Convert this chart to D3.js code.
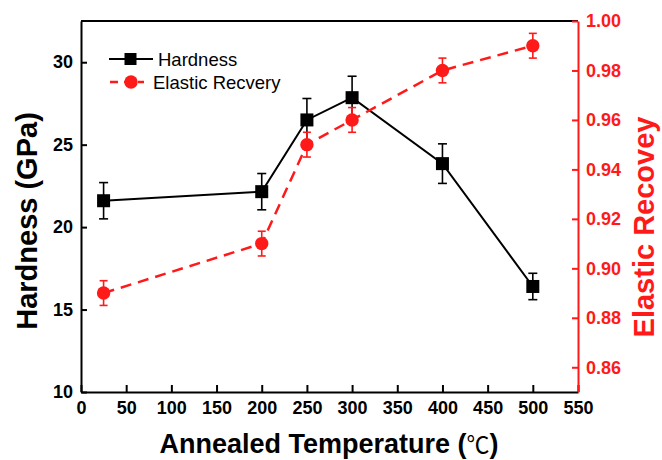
<!DOCTYPE html>
<html>
<head>
<meta charset="utf-8">
<script src="https://cdn.jsdelivr.net/npm/d3@7"></script>
<style>
  html, body { margin: 0; padding: 0; background: #fff; }
  svg { display: block; font-family: "Liberation Sans", Arial, sans-serif; }
</style>
</head>
<body>
<svg id="chart" width="662" height="460"></svg>
<script>
// Annealing temperatures (°C)
const temperatures = [25, 200, 250, 300, 400, 500];
// Hardness (GPa) with error
const hardness = [21.6, 22.15, 26.5, 27.85, 23.85, 16.4];
const hardnessErr = [1.1, 1.1, 1.3, 1.3, 1.2, 0.8];
// Elastic recovery with error
const recovery = [0.89, 0.91, 0.95, 0.96, 0.98, 0.99];
const recoveryErr = [0.005, 0.005, 0.005, 0.005, 0.005, 0.005];

const xTicks = [0, 50, 100, 150, 200, 250, 300, 350, 400, 450, 500, 550];
const leftTicks = [10, 15, 20, 25, 30];
const rightTicks = [0.86, 0.88, 0.90, 0.92, 0.94, 0.96, 0.98, 1.00];

const RED = "#ff1a1a";
const FONT = "Liberation Sans, Arial, sans-serif";
const svg = d3.select("#chart");
const L = 81, R = 578, T = 21, B = 392;

const x = d3.scaleLinear().domain([0, 550]).range([L, R]);
const yL = d3.scaleLinear().domain([10, 32.5]).range([B, T]);
const yR = d3.scaleLinear().domain([0.85, 1.00]).range([B, T]);

// frame top line
svg.append("line").attr("x1", L).attr("x2", R).attr("y1", T).attr("y2", T)
  .attr("stroke", "#000").attr("stroke-width", 2);

function styleAxis(g, color) {
  g.select(".domain").attr("stroke", color).attr("stroke-width", 2);
  g.selectAll(".tick line").attr("stroke", color).attr("stroke-width", 2);
  g.selectAll(".tick text").attr("font-size", 18).attr("font-weight", "bold")
    .attr("fill", color).attr("font-family", FONT);
}

// x axis
const gx = svg.append("g").attr("transform", `translate(0,${B})`)
  .call(d3.axisBottom(x).tickValues(xTicks).tickSize(-7).tickPadding(9).tickSizeOuter(0));
styleAxis(gx, "#000");

// left axis
const gl = svg.append("g").attr("transform", `translate(${L},0)`)
  .call(d3.axisLeft(yL).tickValues(leftTicks).tickSize(-6).tickPadding(8).tickSizeOuter(0));
styleAxis(gl, "#000");

// right axis
const gr = svg.append("g").attr("transform", `translate(${R},0)`)
  .call(d3.axisRight(yR).tickValues(rightTicks).tickFormat(d3.format(".2f"))
    .tickSize(-6).tickPadding(8).tickSizeOuter(0));
styleAxis(gr, RED);

// axis titles
svg.append("text").attr("transform", "translate(37,221) rotate(-90)")
  .attr("text-anchor", "middle").attr("font-size", 29).attr("font-weight", "bold")
  .attr("fill", "#000").text("Hardness (GPa)");
svg.append("text").attr("transform", "translate(654,227) rotate(-90)")
  .attr("text-anchor", "middle").attr("font-size", 29).attr("font-weight", "bold")
  .attr("fill", RED).text("Elastic Recovey");
const xt = svg.append("text").attr("x", 329).attr("y", 453)
  .attr("text-anchor", "middle").attr("font-size", 27).attr("font-weight", "bold")
  .attr("fill", "#000");
xt.append("tspan").text("Annealed Temperature (");
xt.append("tspan").attr("font-family", "Noto Sans CJK SC").attr("font-weight", 400)
  .attr("font-size", 23).text("\u2103");
xt.append("tspan").text(")");

const hData = temperatures.map((t, i) => ({ t, v: hardness[i], e: hardnessErr[i] }));
const rData = temperatures.map((t, i) => ({ t, v: recovery[i], e: recoveryErr[i] }));

// hardness series
svg.append("path").datum(hData)
  .attr("fill", "none").attr("stroke", "#000").attr("stroke-width", 2)
  .attr("d", d3.line().x(d => x(d.t)).y(d => yL(d.v)));
const hErr = svg.append("g").selectAll("g").data(hData).join("g")
  .attr("stroke", "#000").attr("stroke-width", 1.6);
hErr.append("line").attr("x1", d => x(d.t)).attr("x2", d => x(d.t))
  .attr("y1", d => yL(d.v - d.e)).attr("y2", d => yL(d.v + d.e));
hErr.append("line").attr("x1", d => x(d.t) - 4.5).attr("x2", d => x(d.t) + 4.5)
  .attr("y1", d => yL(d.v + d.e)).attr("y2", d => yL(d.v + d.e));
hErr.append("line").attr("x1", d => x(d.t) - 4.5).attr("x2", d => x(d.t) + 4.5)
  .attr("y1", d => yL(d.v - d.e)).attr("y2", d => yL(d.v - d.e));
svg.append("g").selectAll("rect").data(hData).join("rect")
  .attr("x", d => x(d.t) - 6.5).attr("y", d => yL(d.v) - 6.5)
  .attr("width", 13).attr("height", 13).attr("fill", "#000");

// elastic recovery series
svg.append("path").datum(rData)
  .attr("fill", "none").attr("stroke", RED).attr("stroke-width", 2.5)
  .attr("stroke-dasharray", "11,7")
  .attr("d", d3.line().x(d => x(d.t)).y(d => yR(d.v)));
const rErr = svg.append("g").selectAll("g").data(rData).join("g")
  .attr("stroke", RED).attr("stroke-width", 1.6);
rErr.append("line").attr("x1", d => x(d.t)).attr("x2", d => x(d.t))
  .attr("y1", d => yR(d.v - d.e)).attr("y2", d => yR(d.v + d.e));
rErr.append("line").attr("x1", d => x(d.t) - 4).attr("x2", d => x(d.t) + 4)
  .attr("y1", d => yR(d.v + d.e)).attr("y2", d => yR(d.v + d.e));
rErr.append("line").attr("x1", d => x(d.t) - 4).attr("x2", d => x(d.t) + 4)
  .attr("y1", d => yR(d.v - d.e)).attr("y2", d => yR(d.v - d.e));
svg.append("g").selectAll("circle").data(rData).join("circle")
  .attr("cx", d => x(d.t)).attr("cy", d => yR(d.v)).attr("r", 6.7).attr("fill", RED);

// legend
const lg = svg.append("g");
lg.append("line").attr("x1", 109).attr("x2", 153).attr("y1", 59).attr("y2", 59)
  .attr("stroke", "#000").attr("stroke-width", 2);
lg.append("rect").attr("x", 124.5).attr("y", 53).attr("width", 12).attr("height", 12).attr("fill", "#000");
lg.append("text").attr("x", 158).attr("y", 65.5).attr("font-size", 18.5).attr("fill", "#000").text("Hardness");
lg.append("line").attr("x1", 110).attr("x2", 144).attr("y1", 82).attr("y2", 82)
  .attr("stroke", RED).attr("stroke-width", 2.5).attr("stroke-dasharray", "8,6");
lg.append("circle").attr("cx", 131).attr("cy", 82).attr("r", 6.7).attr("fill", RED);
lg.append("text").attr("x", 153).attr("y", 88.5).attr("font-size", 18.5).attr("fill", "#000").text("Elastic Recvery");
</script>
</body>
</html>
